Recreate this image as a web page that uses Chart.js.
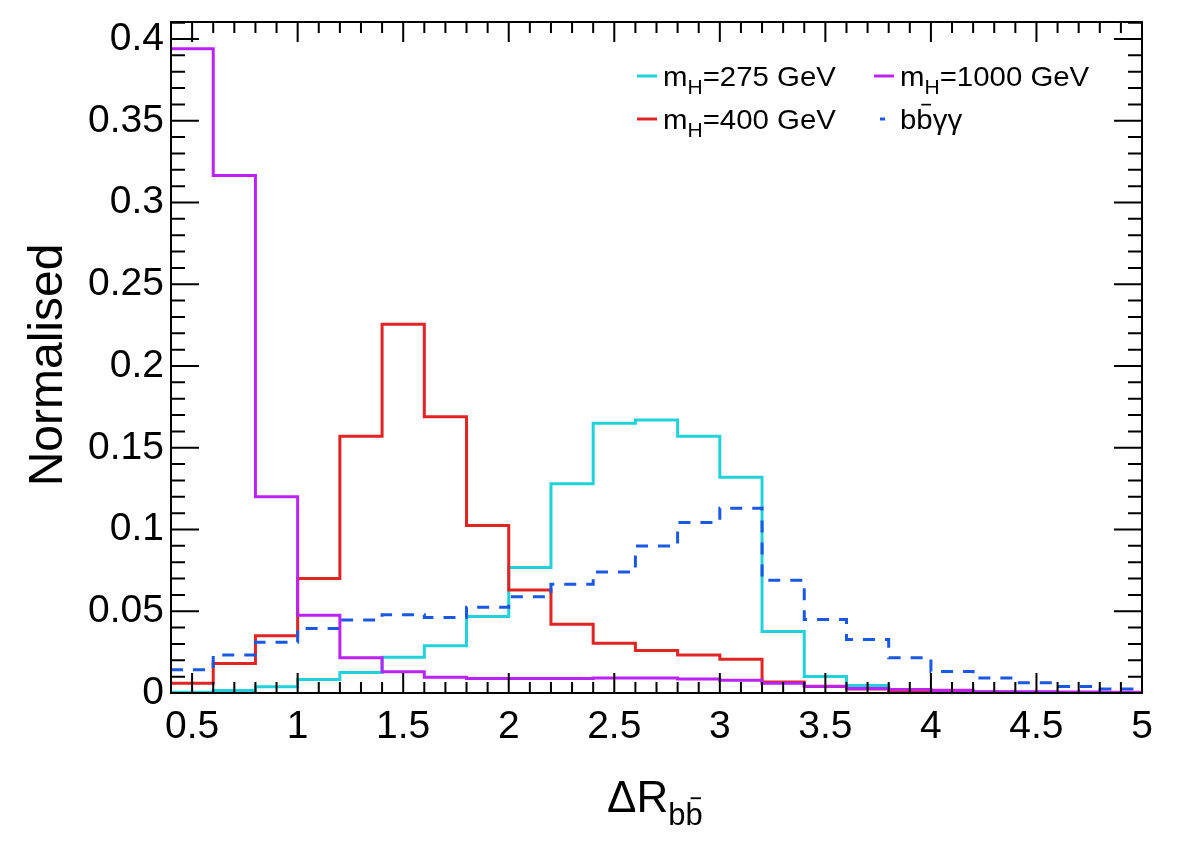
<!DOCTYPE html>
<html>
<head>
<meta charset="utf-8">
<script src="https://cdn.jsdelivr.net/npm/chart.js@4.4.1/dist/chart.umd.min.js"></script>
<style>
  html, body { margin: 0; padding: 0; background: #fff; }
</style>
</head>
<body>
<canvas id="dr" width="1182" height="859"></canvas>
<script>
// bin lower edges (width 0.2), last upper edge
const binLow = [0.4, 0.6, 0.8, 1.0, 1.2, 1.4, 1.6, 1.8, 2.0, 2.2, 2.4, 2.6,
                2.8, 3.0, 3.2, 3.4, 3.6, 3.8, 4.0, 4.2, 4.4, 4.6, 4.8];
const binEnd = 5.0;

const mH275 = [0.0005, 0.0016, 0.0038, 0.0083, 0.0126, 0.0218, 0.0289, 0.0468,
               0.0767, 0.128, 0.165, 0.167, 0.157, 0.132, 0.0376, 0.0101,
               0.0046, 0.0018, 0.001, 0.0006, 0.0004, 0.0002, 0.0001];
const mH400 = [0.006, 0.018, 0.035, 0.070, 0.157, 0.2255, 0.169, 0.1025,
               0.063, 0.042, 0.0305, 0.026, 0.0232, 0.0207, 0.0068, 0.004,
               0.0025, 0.001, 0.0008, 0.0004, 0.0003, 0.0002, 0.0001];
const mH1000 = [0.394, 0.3165, 0.12, 0.0476, 0.0216, 0.013, 0.0096, 0.0088,
                0.0088, 0.0088, 0.0092, 0.0092, 0.0086, 0.0078, 0.006, 0.0042,
                0.0027, 0.0021, 0.0017, 0.0008, 0.0007, 0.0006, 0.0005];
const bbgg = [0.0142, 0.0232, 0.031, 0.0395, 0.0447, 0.0478, 0.0462, 0.0525,
              0.0588, 0.0665, 0.074, 0.0899, 0.1043, 0.113, 0.069, 0.045,
              0.0327, 0.0215, 0.0132, 0.0091, 0.0063, 0.004, 0.0024];

const xTicks = [0.5, 1, 1.5, 2, 2.5, 3, 3.5, 4, 4.5, 5];
const yTicks = [0, 0.05, 0.1, 0.15, 0.2, 0.25, 0.3, 0.35, 0.4];

const FONT = '"Liberation Sans", Arial, Helvetica, sans-serif';

// histogram -> step points (left edges + closing point)
function steps(vals) {
  const pts = binLow.map((x, i) => ({ x: x, y: vals[i] }));
  pts.push({ x: binEnd, y: vals[vals.length - 1] });
  return pts;
}

function histSet(label, vals, color, dash, order) {
  return {
    label: label,
    data: steps(vals),
    borderColor: color,
    backgroundColor: color,
    borderWidth: 3,
    borderDash: dash || [],
    stepped: 'before',
    pointRadius: 0,
    fill: false,
    order: order
  };
}

// draw text pieces: {t, sub, bar}
function drawPieces(ctx, pieces, x, y, size, subSize, sx) {
  ctx.save();
  ctx.translate(x, y);
  ctx.scale(sx, 1);
  let cx = 0;
  pieces.forEach(p => {
    const fs = p.sub ? subSize : size;
    ctx.font = fs + 'px ' + FONT;
    const dy = p.sub ? size * 0.3 : 0;
    ctx.fillText(p.t, cx, dy);
    const w = ctx.measureText(p.t).width;
    if (p.bar) {
      ctx.fillRect(cx + w * 0.3, dy - fs * 0.9, w * 0.6, Math.max(1.5, fs * 0.06));
    }
    cx += w;
  });
  ctx.restore();
}

const legendItems = [
  { pieces: [{ t: 'm' }, { t: 'H', sub: true }, { t: '=275 GeV' }], color: '#22d2d8', x: 637, y: 76, dash: false },
  { pieces: [{ t: 'm' }, { t: 'H', sub: true }, { t: '=400 GeV' }], color: '#e02424', x: 637, y: 119, dash: false },
  { pieces: [{ t: 'm' }, { t: 'H', sub: true }, { t: '=1000 GeV' }], color: '#bb22f8', x: 874, y: 76, dash: false },
  { pieces: [{ t: 'b' }, { t: 'b', bar: true }, { t: 'γγ' }], color: '#1a58e4', x: 874, y: 119, dash: true }
];

const decor = {
  id: 'decor',
  afterDatasetsDraw(chart) {
    const { ctx, chartArea: a, scales: { x, y } } = chart;
    ctx.save();
    ctx.strokeStyle = '#000';
    ctx.lineWidth = 2;
    ctx.beginPath();
    for (let i = 0; i <= 46; i++) {
      const v = 0.4 + i * 0.1;
      const px = x.getPixelForValue(v);
      const major = Math.abs(v * 2 - Math.round(v * 2)) < 1e-6;
      const len = major ? 20 : 11;
      ctx.moveTo(px, a.bottom); ctx.lineTo(px, a.bottom - len);
      ctx.moveTo(px, a.top); ctx.lineTo(px, a.top + len);
    }
    for (let i = 0; i <= 41; i++) {
      const py = y.getPixelForValue(i * 0.01);
      const len = i % 5 === 0 ? 28 : 14;
      ctx.moveTo(a.left, py); ctx.lineTo(a.left + len, py);
      ctx.moveTo(a.right, py); ctx.lineTo(a.right - len, py);
    }
    ctx.stroke();
    ctx.strokeRect(a.left, a.top, a.right - a.left, a.bottom - a.top);

    // legend
    ctx.fillStyle = '#000';
    ctx.textBaseline = 'alphabetic';
    ctx.textAlign = 'left';
    legendItems.forEach(it => {
      ctx.strokeStyle = it.color;
      ctx.lineWidth = 3;
      ctx.beginPath();
      if (it.dash) {
        ctx.moveTo(it.x + 6, it.y); ctx.lineTo(it.x + 11, it.y);
      } else {
        ctx.moveTo(it.x, it.y); ctx.lineTo(it.x + 20, it.y);
      }
      ctx.stroke();
      drawPieces(ctx, it.pieces, it.x + 26, it.y + 10, 28, 20, 1.05);
    });

    // axis titles
    drawPieces(ctx, [{ t: 'ΔR' }, { t: 'b', sub: true }, { t: 'b', sub: true, bar: true }], 607, 812, 44, 31, 1);
    ctx.save();
    ctx.translate(62, 365);
    ctx.rotate(-Math.PI / 2);
    ctx.textAlign = 'center';
    ctx.font = '48px ' + FONT;
    ctx.fillText('Normalised', 0, 0);
    ctx.restore();
    ctx.restore();
  }
};

new Chart(document.getElementById('dr').getContext('2d'), {
  type: 'line',
  data: {
    datasets: [
      histSet('mH=275 GeV', mH275, '#22d2d8', null, 4),
      histSet('mH=400 GeV', mH400, '#e02424', null, 3),
      histSet('bbγγ', bbgg, '#1a58e4', [12, 10], 2),
      histSet('mH=1000 GeV', mH1000, '#bb22f8', null, 1)
    ]
  },
  options: {
    responsive: false,
    animation: false,
    devicePixelRatio: 1,
    layout: { padding: { left: 0, top: 22, right: 40, bottom: 0 } },
    plugins: { legend: { display: false }, tooltip: { enabled: false } },
    scales: {
      x: {
        type: 'linear',
        min: 0.4,
        max: 5.0,
        grid: { display: false, drawTicks: false },
        border: { display: false },
        afterBuildTicks: s => { s.ticks = xTicks.map(v => ({ value: v })); },
        afterFit: s => { s.height = 166; s.paddingLeft = 0; s.paddingRight = 0; },
        ticks: {
          autoSkip: false,
          maxRotation: 0,
          padding: 11,
          color: '#000',
          font: { family: FONT, size: 39 },
          callback: v => String(v)
        }
      },
      y: {
        type: 'linear',
        min: 0,
        max: 0.4104,
        grid: { display: false, drawTicks: false },
        border: { display: false },
        afterBuildTicks: s => { s.ticks = yTicks.map(v => ({ value: v })); },
        afterFit: s => { s.width = 171; s.paddingTop = 0; s.paddingBottom = 0; },
        ticks: {
          autoSkip: false,
          padding: 7,
          color: '#000',
          font: { family: FONT, size: 39 },
          callback: v => String(v)
        }
      }
    }
  },
  plugins: [decor]
});
</script>
</body>
</html>
